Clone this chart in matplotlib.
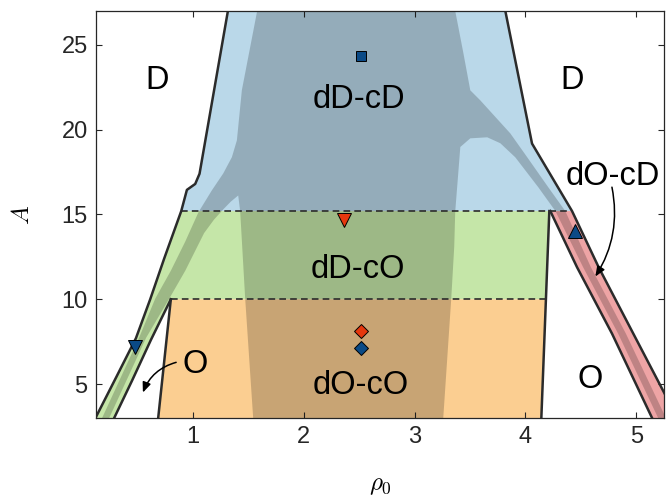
import numpy as np
import matplotlib
matplotlib.use("Agg")
import matplotlib.pyplot as plt
from matplotlib.patches import Polygon

plt.rcParams['font.family'] = ['Liberation Sans', 'DejaVu Sans']
plt.rcParams['mathtext.fontset'] = 'cm'

# phase boundaries in the (rho0, A) plane
outer_left_x = [0.12, 0.307, 0.485, 0.614, 0.74, 0.894, 0.945, 1.02, 1.059, 1.315]
outer_left_A = [3.0, 5.4, 7.7, 10.0, 12.4, 15.2, 16.45, 16.8, 17.4, 27.0]
inner_left_x = [0.289, 0.45, 0.62, 0.80]
inner_left_A = [3.0, 5.2, 7.6, 10.0]
orange_left_x = [0.686, 0.80]
orange_left_A = [3.0, 10.0]
mid_right_x = [4.143, 4.215]
mid_right_A = [3.0, 15.2]
right_outer_x = [3.818, 4.059, 4.42, 4.66, 4.973, 5.37]
right_outer_A = [27.0, 19.18, 15.2, 11.89, 7.97, 3.0]
pink_left_x = [4.224, 4.465, 4.781, 5.142]
pink_left_A = [15.2, 11.89, 7.97, 3.0]
A_low = 10.0
A_high = 15.2

# darker (overlapping) region
arm_l_out_x = [0.18, 0.514, 0.659, 0.80, 0.93, 1.05, 1.17, 1.273, 1.351, 1.396, 1.441, 1.579]
arm_l_out_A = [3.0, 7.74, 10.03, 11.68, 13.4, 15.14, 16.42, 17.42, 18.38, 19.37, 22.33, 27.0]
arm_r_out_x = [3.366, 3.44, 3.502, 3.592, 3.863, 4.016, 4.206, 4.359]
arm_r_out_A = [27.0, 24.5, 22.32, 21.73, 19.78, 18.37, 16.6, 15.2]
strip_r_out_x = [4.59, 4.906, 5.267]
strip_r_out_A = [11.89, 7.97, 3.0]
strip_r_in_x = [5.197, 4.836, 4.52]
strip_r_in_A = [3.0, 7.97, 11.89]
hole_r_x = [4.27, 4.116, 3.908, 3.773, 3.655, 3.502, 3.412]
hole_r_A = [15.2, 16.6, 18.37, 19.2, 19.55, 19.49, 18.98]
band_r_x = [3.366, 3.357, 3.33, 3.258]
band_r_A = [15.17, 13.1, 10.03, 3.0]
band_l_x = [1.543, 1.471, 1.426, 1.408]
band_l_A = [3.0, 10.03, 15.17, 16.12]
arm_l_in_x = [1.34, 1.273, 1.19, 1.10, 0.93, 0.785, 0.578, 0.244]
arm_l_in_A = [15.75, 15.3, 14.7, 13.9, 11.68, 10.03, 7.74, 3.0]

# markers
sq_x, sq_A = [2.52], [24.33]
red_tri_x, red_tri_A = [2.365], [14.65]
red_dia_x, red_dia_A = [2.52], [8.15]
blue_dia_x, blue_dia_A = [2.52], [7.1]
blue_tri_dn_x, blue_tri_dn_A = [0.48], [7.16]
blue_tri_up_x, blue_tri_up_A = [4.45], [14.0]

labels = ['D', 'D', 'dD-cD', 'dO-cD', 'dD-cO', 'dO-cO', 'O', 'O']
label_x = [0.677, 4.42, 2.5, 4.79, 2.49, 2.51, 1.02, 4.585]
label_A = [22.37, 22.37, 21.26, 16.71, 11.28, 4.43, 5.67, 4.74]

blue = '#bad8e9'
green = '#c5e6a8'
orange = '#fbce91'
pink = '#eea4a5'
line_c = '#2b2b2b'
mk_blue = '#0b4a86'
mk_red = '#e5380e'


def interp_x(xs, As, a):
    order = np.argsort(As)
    return float(np.interp(a, np.array(As)[order], np.array(xs)[order]))


ol = np.column_stack([outer_left_x, outer_left_A])
x_mid_low = interp_x(mid_right_x, mid_right_A, A_low)
x_ol_high = interp_x(outer_left_x, outer_left_A, A_high)
x_ro_high = interp_x(right_outer_x, right_outer_A, A_high)

fig = plt.figure(figsize=(6.7, 4.96), dpi=100)
ax = fig.add_axes([0.1433, 0.1573, 0.8478, 0.8206])

# dD-cD
top = ol[ol[:, 1] >= A_high]
ro = np.column_stack([right_outer_x, right_outer_A])
ro_top = ro[ro[:, 1] >= A_high]
blue_poly = np.vstack([top, ro_top])
ax.add_patch(Polygon(blue_poly, closed=True, facecolor=blue, edgecolor='none', zorder=1))

# dD-cO (including the thin band on the left)
low = ol[ol[:, 1] <= A_high]
green_poly = np.vstack([
    low,
    [[mid_right_x[1], A_high], [x_mid_low, A_low]],
    np.column_stack([inner_left_x, inner_left_A])[::-1],
])
ax.add_patch(Polygon(green_poly, closed=True, facecolor=green, edgecolor='none', zorder=1))

# dO-cO
orange_poly = np.vstack([
    np.column_stack([orange_left_x, orange_left_A]),
    [[x_mid_low, A_low], [mid_right_x[0], mid_right_A[0]]],
])
ax.add_patch(Polygon(orange_poly, closed=True, facecolor=orange, edgecolor='none', zorder=1))

# dO-cD band
ro_low = ro[ro[:, 1] <= A_high]
pink_poly = np.vstack([np.column_stack([pink_left_x, pink_left_A]), ro_low[::-1]])
ax.add_patch(Polygon(pink_poly, closed=True, facecolor=pink, edgecolor='none', zorder=1))

# darker overlap region
gray_poly = np.vstack([
    np.column_stack([arm_l_out_x, arm_l_out_A]),
    np.column_stack([arm_r_out_x, arm_r_out_A]),
    np.column_stack([strip_r_out_x, strip_r_out_A]),
    np.column_stack([strip_r_in_x, strip_r_in_A]),
    np.column_stack([hole_r_x, hole_r_A]),
    np.column_stack([band_r_x, band_r_A]),
    np.column_stack([band_l_x, band_l_A]),
    np.column_stack([arm_l_in_x, arm_l_in_A]),
])
ax.add_patch(Polygon(gray_poly, closed=True, facecolor='k', alpha=0.2, edgecolor='none', zorder=2))

# boundaries
lw = 1.8
for xs, As in [(outer_left_x, outer_left_A), (inner_left_x, inner_left_A),
               (orange_left_x, orange_left_A), (mid_right_x, mid_right_A),
               (right_outer_x, right_outer_A), (pink_left_x, pink_left_A)]:
    ax.plot(xs, As, color=line_c, lw=lw, zorder=3, solid_joinstyle='round')
ax.plot([x_ol_high, x_ro_high], [A_high, A_high], '--', color=line_c, lw=1.2, zorder=3, dashes=(4, 2.5))
ax.plot([inner_left_x[-1], x_mid_low], [A_low, A_low], '--', color=line_c, lw=1.2, zorder=3, dashes=(4, 2.5))

# markers
ax.plot(sq_x, sq_A, 's', ms=7, mfc=mk_blue, mec='k', mew=0.7, zorder=4)
ax.plot(red_tri_x, red_tri_A, 'v', ms=10, mfc=mk_red, mec='k', mew=0.7, zorder=4)
ax.plot(red_dia_x, red_dia_A, 'D', ms=7.5, mfc=mk_red, mec='k', mew=0.7, zorder=4)
ax.plot(blue_dia_x, blue_dia_A, 'D', ms=7.5, mfc=mk_blue, mec='k', mew=0.7, zorder=4)
ax.plot(blue_tri_dn_x, blue_tri_dn_A, 'v', ms=10, mfc=mk_blue, mec='k', mew=0.7, zorder=4)
ax.plot(blue_tri_up_x, blue_tri_up_A, '^', ms=10, mfc=mk_blue, mec='k', mew=0.7, zorder=4)

for s, x, a in zip(labels, label_x, label_A):
    ax.text(x, a, s, ha='center', va='baseline', fontsize=23.5, zorder=5)

arrow = dict(arrowstyle='-|>,head_length=0.6,head_width=0.25', color='k', lw=1.1,
             shrinkA=0, shrinkB=0)
ax.annotate('', xy=(0.548, 4.5), xytext=(0.848, 6.28),
            arrowprops=dict(arrow, connectionstyle='arc3,rad=0.25'), zorder=5)
ax.annotate('', xy=(4.63, 11.34), xytext=(4.78, 16.61),
            arrowprops=dict(arrow, connectionstyle='arc3,rad=-0.2'), zorder=5)

ax.set_xlim(0.125, 5.25)
ax.set_ylim(3, 27)
ax.set_xticks([1, 2, 3, 4, 5])
ax.set_yticks([5, 10, 15, 20, 25])
ax.tick_params(direction='in', length=4, width=0.8, top=True, right=True,
               labelsize=17, colors='#262626', pad=6)
for sp in ax.spines.values():
    sp.set_color('#262626')
    sp.set_linewidth(0.9)
    sp.set_zorder(6)
ax.set_xlabel(r'$\rho_0$', fontsize=18)
ax.set_ylabel(r'$A$', fontsize=18)
ax.xaxis.set_label_coords(0.5, -0.135)
ax.yaxis.set_label_coords(-0.11, 0.5)

fig.savefig('out.png', dpi=100)
